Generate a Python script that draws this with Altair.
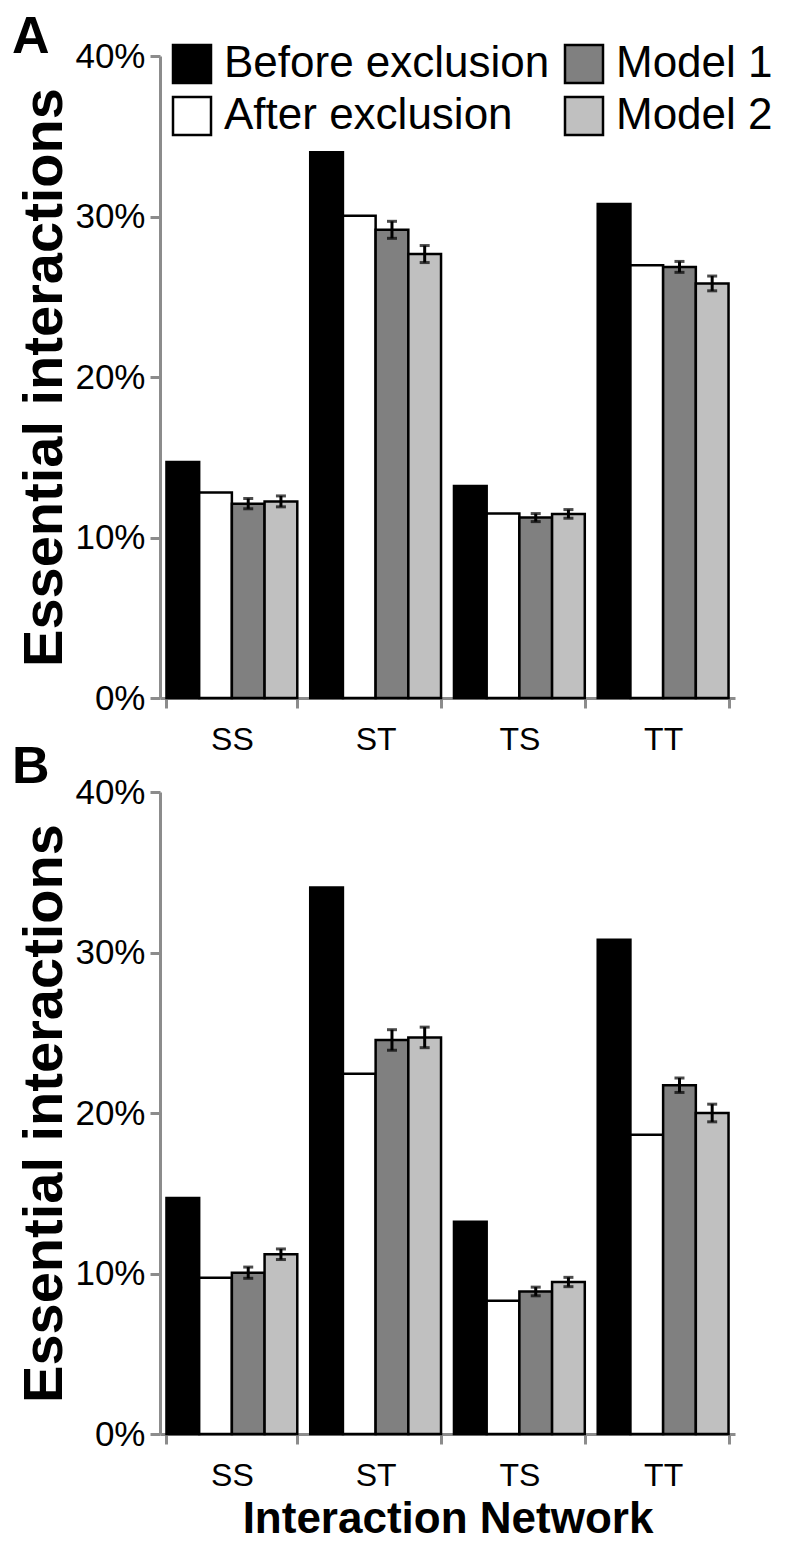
import altair as alt
import pandas as pd

FONT = "Liberation Sans"

networks = ["SS", "ST", "TS", "TT"]
series_order = ["Before exclusion", "After exclusion", "Model 1", "Model 2"]
fill_range = ["#000000", "#ffffff", "#808080", "#c0c0c0"]

# Panel A values (percent)
a_before = [14.70, 34.00, 13.21, 30.78]
a_after = [12.80, 30.05, 11.49, 26.97]
a_m1 = [12.11, 29.17, 11.24, 26.86]
a_m1_err = [0.32, 0.53, 0.25, 0.34]
a_m2 = [12.25, 27.66, 11.47, 25.83]
a_m2_err = [0.34, 0.53, 0.27, 0.46]

# Panel B values (percent)
b_before = [14.70, 34.05, 13.22, 30.80]
b_after = [9.73, 22.45, 8.30, 18.64]
b_m1 = [10.05, 24.55, 8.88, 21.73]
b_m1_err = [0.35, 0.64, 0.27, 0.45]
b_m2 = [11.20, 24.71, 9.47, 20.00]
b_m2_err = [0.33, 0.64, 0.29, 0.55]


def build(before, after, m1, m2, m1e, m2e):
    rows, errs = [], []
    for i, n in enumerate(networks):
        rows.append({"network": n, "series": "Before exclusion", "value": before[i]})
        rows.append({"network": n, "series": "After exclusion", "value": after[i]})
        rows.append({"network": n, "series": "Model 1", "value": m1[i]})
        rows.append({"network": n, "series": "Model 2", "value": m2[i]})
        for s, v, e in (("Model 1", m1[i], m1e[i]), ("Model 2", m2[i], m2e[i])):
            errs.append({"network": n, "series": s, "value": v - e, "high": v + e})
    return pd.DataFrame(rows), pd.DataFrame(errs)


GRAY = "#8c8c8c"


def panel(before, after, m1, m2, m1e, m2e, letter, show_legend, xtitle, letter_y):
    df, de = build(before, after, m1, m2, m1e, m2e)
    bounds = pd.concat([
        de[["network", "series", "value"]],
        de[["network", "series", "high"]].rename(columns={"high": "value"}),
    ])

    xaxis = alt.Axis(
        labelFont=FONT, labelFontSize=32, labelColor="black", labelAngle=0,
        labelPadding=16, tickBand="extent", tickSize=10, tickWidth=3,
        tickColor=GRAY, domainColor=GRAY, domainWidth=3,
        titleFont=FONT, titleFontSize=44, titleFontWeight="bold",
        titleColor="black", titlePadding=6,
    )
    xscale = alt.Scale(domain=networks, paddingInner=0.09, paddingOuter=0.045)
    if xtitle:
        x = alt.X("network:N", sort=networks, scale=xscale, axis=xaxis, title=xtitle)
    else:
        x = alt.X("network:N", sort=networks, scale=xscale, axis=xaxis, title=None)

    yaxis = alt.Axis(
        values=[0, 10, 20, 30, 40], labelExpr="datum.value + '%'",
        labelFont=FONT, labelFontSize=35, labelColor="black", labelPadding=5,
        tickSize=10, tickWidth=3, tickColor=GRAY, domainColor=GRAY, domainWidth=3,
        grid=False, titleFont=FONT, titleFontSize=56, titleFontWeight="bold",
        titleColor="black", titlePadding=1,
    )
    y = alt.Y("value:Q", scale=alt.Scale(domain=[0, 40], nice=False), axis=yaxis,
              title="Essential interactions")
    xo = alt.XOffset("series:N", sort=series_order,
                     scale=alt.Scale(domain=series_order, paddingInner=0, paddingOuter=0))

    fscale = alt.Scale(domain=series_order, range=fill_range)
    if show_legend:
        leg = alt.Legend(
            orient="none", legendX=10, legendY=-14, columns=2, columnPadding=10,
            rowPadding=4, symbolType="square", symbolSize=1444,
            symbolStrokeColor="black", symbolStrokeWidth=2.5,
            labelFont=FONT, labelFontSize=44, labelColor="black", labelOffset=10,
            labelLimit=600, title=None, values=series_order,
        )
        fill = alt.Fill("series:N", scale=fscale, legend=leg)
    else:
        fill = alt.Fill("series:N", scale=fscale, legend=None)

    bars = alt.Chart(df).mark_bar(stroke="black", strokeWidth=2.5).encode(
        x=x, xOffset=xo, y=y, fill=fill
    )
    rules = alt.Chart(de).mark_rule(color="black", strokeWidth=3).encode(
        x=x, xOffset=xo, y=y, y2="high:Q"
    )
    caps = alt.Chart(bounds).mark_tick(color="black", thickness=3, size=10).encode(
        x=x, xOffset=xo, y=y
    )
    lab = alt.Chart(pd.DataFrame({"label": [letter]})).mark_text(
        font=FONT, fontSize=52, fontWeight="bold", align="left", baseline="top", color="black"
    ).encode(x=alt.value(-148), y=alt.value(letter_y), text="label:N")

    return alt.layer(bars, rules, caps, lab).properties(width=575, height=642)


pA = panel(a_before, a_after, a_m1, a_m2, a_m1_err, a_m2_err, "A", True, None, -44)
pB = panel(b_before, b_after, b_m1, b_m2, b_m1_err, b_m2_err, "B", False, "Interaction Network", -50)

chart = alt.vconcat(pA, pB, spacing=94, bounds="flush").resolve_scale(
    fill="independent"
).resolve_legend(fill="independent").properties(
    padding={"left": 4, "top": 3, "right": 0, "bottom": 0}
).configure_view(strokeWidth=0)

chart.save("out.html", embed_options={"renderer": "svg", "actions": False})
